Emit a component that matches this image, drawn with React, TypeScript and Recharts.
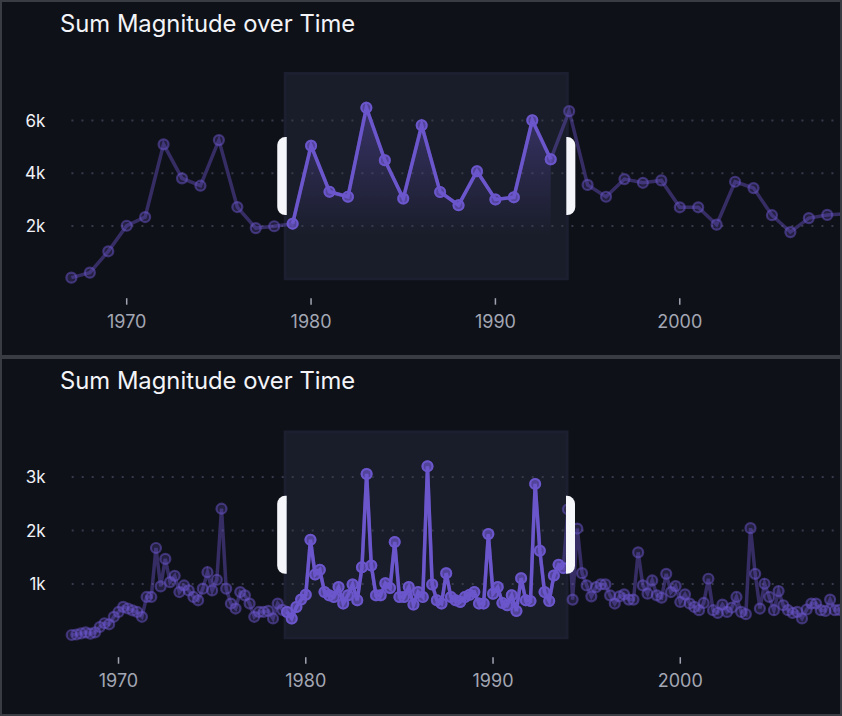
import React from "react";
import {
  ComposedChart,
  Line,
  Area,
  XAxis,
  YAxis,
  ReferenceArea,
  ReferenceLine,
} from "recharts";

//========== Data ==========
const TITLE = "Sum Magnitude over Time";
const X_TICKS = [1970, 1980, 1990, 2000, 2010];

// yearly sums (top panel)
const YEARS = [
  1967, 1968, 1969, 1970, 1971, 1972, 1973, 1974, 1975, 1976, 1977, 1978, 1979,
  1980, 1981, 1982, 1983, 1984, 1985, 1986, 1987, 1988, 1989, 1990, 1991, 1992,
  1993, 1994, 1995, 1996, 1997, 1998, 1999, 2000, 2001, 2002, 2003, 2004, 2005,
  2006, 2007, 2008, 2009,
];
const YEARLY_MAG = [
  40, 230, 1040, 2010, 2340, 5100, 3810, 3530, 5260, 2720, 1920, 1990, 2090,
  5050, 3300, 3110, 6490, 4500, 3040, 5820, 3290, 2790, 4080, 3010, 3090, 6010,
  4530, 6360, 3560, 3110, 3780, 3640, 3730, 2710, 2710, 2050, 3680, 3440, 2410,
  1770, 2300, 2420, 2460,
];
const YEARLY_Y_TICKS = [2000, 4000, 6000];

// quarterly sums (bottom panel), first quarter = Q3 1967
const QUARTER_START = 1967.5;
const QUARTERLY_MAG = [
  50, 60, 80, 100, 75, 100, 200, 270, 250, 390, 480, 575, 545, 510, 480, 390,
  760, 760, 1674, 957, 1470, 1037, 1155, 852, 975, 883, 760, 698, 915, 1222,
  883, 1081, 2407, 915, 637, 544, 852, 790, 637, 390, 480, 481, 500, 359, 637,
  520, 481, 359, 574, 711, 803, 1828, 1180, 1266, 852, 790, 760, 944, 637, 790,
  994, 698, 1315, 3056, 1346, 790, 790, 1018, 926, 1785, 760, 760, 944, 618,
  852, 760, 3198, 994, 698, 637, 1204, 760, 698, 667, 760, 800, 852, 637, 637,
  1933, 822, 944, 648, 605, 790, 500, 1111, 698, 685, 2870, 1624, 852, 685,
  1161, 1359, 1300, 2396, 711, 2037, 1204, 976, 772, 944, 994, 994, 790, 637,
  772, 809, 711, 711, 1593, 976, 822, 1068, 790, 747, 1192, 852, 963, 667, 809,
  637, 574, 513, 648, 1100, 513, 463, 618, 481, 563, 760, 481, 439, 2044, 1192,
  544, 1007, 760, 513, 870, 605, 513, 463, 481, 359, 526, 637, 637, 513, 500,
  711, 513, 520,
];
const QUARTERLY_Y_TICKS = [1000, 2000, 3000];

//========== Colors ==========
const BG = "#0f1119";
const BORDER = "#3a3c44";
const PURPLE = "#6c56cc";
const GRID = "#363a4a";

type Row = { x: number; v: number; sel: number | null };

const buildRows = (xs: number[], vals: number[], lo: number, hi: number): Row[] =>
  xs.map((x, i) => ({ x, v: vals[i], sel: x >= lo && x <= hi ? vals[i] : null }));

const topRows = buildRows(YEARS, YEARLY_MAG, 1979, 1993);
const bottomRows = buildRows(
  QUARTERLY_MAG.map((_, i) => QUARTER_START + i / 4),
  QUARTERLY_MAG,
  1979,
  1993.75
);

//========== Ticks ==========
const YTick = (props: any) => {
  const { x, y, payload } = props;
  return (
    <text x={x + 2} y={y} dy={6} textAnchor="end" fill="#f0f1f6" fontSize={17} fontFamily="Inter">
      {payload.value / 1000}k
    </text>
  );
};

const XTick = (props: any) => {
  const { x, y, payload } = props;
  return (
    <g>
      <line x1={x} x2={x} y1={y + 19.5} y2={y + 26} stroke="#a0a4b0" strokeWidth={1.5} />
      <text x={x} y={y + 49.5} textAnchor="middle" fill="#a3a7b3" fontSize={18} fontFamily="Inter">
        {payload.value}
      </text>
    </g>
  );
};

//========== Brush shapes ==========
const BrushRect = (props: any) => {
  const { x, y, width, height } = props;
  return (
    <rect x={x} y={y} width={width} height={height} fill="#191d29" stroke="#1c1f2f" strokeWidth={3} />
  );
};

const BrushHandles = (props: any) => {
  const { x, y, width, height } = props;
  const cy = y + height / 2;
  const t = cy - 39;
  const b = cy + 39;
  const r = 8;
  const l0 = x - 8;
  const l1 = x + 1.5;
  const r0 = x + width - 1;
  const r1 = x + width + 8;
  return (
    <g fill="#f4f6fa">
      <path d={`M${l1},${t} H${l0 + r} A${r},${r} 0 0 0 ${l0},${t + r} V${b - r} A${r},${r} 0 0 0 ${l0 + r},${b} H${l1} Z`} />
      <path d={`M${r0},${t} H${r1 - r} A${r},${r} 0 0 1 ${r1},${t + r} V${b - r} A${r},${r} 0 0 1 ${r1 - r},${b} H${r0} Z`} />
    </g>
  );
};

//========== Panel ==========
type PanelProps = {
  top: number;
  height: number;
  rows: Row[];
  xDomain: [number, number];
  yDomain: [number, number];
  yTicks: number[];
  brush: [number, number];
  chartWidth: number;
  plotLeft: number;
  plotTop: number;
  plotBottom: number;
  showArea: boolean;
  gradId: string;
};

const Panel: React.FC<PanelProps> = (p) => {
  const chartHeight = p.height;
  return (
    <div
      style={{
        position: "absolute",
        left: 0,
        top: p.top,
        width: 842,
        height: p.height,
        overflow: "hidden",
        background: BG,
      }}
    >
      {/*========== Title ==========*/}
      <div
        style={{
          position: "absolute",
          left: 60,
          top: 10,
          fontFamily: "Inter",
          fontSize: 23.8,
          fontWeight: 400,
          lineHeight: "28px",
          color: "#f3f4f7",
          whiteSpace: "nowrap",
        }}
      >
        {TITLE}
      </div>

      {/*========== Chart ==========*/}
      <div style={{ position: "absolute", left: 0, top: 0 }}>
        <ComposedChart
          width={p.chartWidth}
          height={chartHeight}
          data={p.rows}
          margin={{ top: p.plotTop, right: 0, bottom: 0, left: 0 }}
        >
          <defs>
            <linearGradient id={p.gradId} x1="0" y1="0" x2="0" y2="1">
              <stop offset="0%" stopColor={PURPLE} stopOpacity={0.38} />
              <stop offset="75%" stopColor={PURPLE} stopOpacity={0} />
            </linearGradient>
          </defs>
          <ReferenceArea
            x1={p.brush[0]}
            x2={p.brush[1]}
            shape={BrushRect}
            ifOverflow="visible"
            zIndex={-200}
          />
          {p.yTicks.map((t) => (
            <ReferenceLine
              key={t}
              y={t}
              stroke={GRID}
              strokeWidth={2}
              strokeDasharray="2 8"
              zIndex={-150}
            />
          ))}
          <XAxis
            dataKey="x"
            type="number"
            domain={p.xDomain}
            ticks={X_TICKS}
            axisLine={false}
            tickLine={false}
            tickSize={0}
            tickMargin={0}
            height={chartHeight - p.plotBottom}
            tick={XTick}
            interval={0}
          />
          <YAxis
            type="number"
            domain={p.yDomain}
            ticks={p.yTicks}
            axisLine={false}
            tickLine={false}
            tickSize={0}
            tickMargin={28}
            width={p.plotLeft}
            tick={YTick}
          />
          <Line
            dataKey="v"
            stroke={PURPLE}
            strokeOpacity={0.42}
            strokeWidth={3.5}
            dot={{ r: 5, fill: PURPLE, fillOpacity: 0.22, stroke: PURPLE, strokeOpacity: 0.5, strokeWidth: 2.2 }}
            activeDot={false}
            isAnimationActive={false}
          />
          {p.showArea && (
            <Area
              dataKey="sel"
              stroke="none"
              fill={`url(#${p.gradId})`}
              fillOpacity={1}
              activeDot={false}
              isAnimationActive={false}
            />
          )}
          <Line
            dataKey="sel"
            stroke={PURPLE}
            strokeWidth={3.5}
            dot={{ r: 5, fill: PURPLE, fillOpacity: 0.6, stroke: PURPLE, strokeWidth: 2 }}
            activeDot={false}
            isAnimationActive={false}
          />
          <ReferenceArea
            x1={p.brush[0]}
            x2={p.brush[1]}
            shape={BrushHandles}
            ifOverflow="visible"
            zIndex={1500}
          />
        </ComposedChart>
      </div>

      {/*========== Border ==========*/}
      <div
        style={{
          position: "absolute",
          inset: 0,
          border: `2px solid ${BORDER}`,
          pointerEvents: "none",
        }}
      />
    </div>
  );
};

//========== App ==========
const App: React.FC = () => {
  return (
    <div style={{ position: "relative", width: 842, height: 716, background: BG }}>
      <style>{`body{margin:0;background:${BG};}`}</style>
      <Panel
        top={0}
        height={357}
        rows={topRows}
        xDomain={[1967, 2012]}
        yDomain={[0, 7788]}
        yTicks={YEARLY_Y_TICKS}
        brush={[1978.6, 1993.9]}
        chartWidth={901}
        plotLeft={71.4}
        plotTop={73.5}
        plotBottom={278.7}
        showArea
        gradId="selGradTop"
      />
      <Panel
        top={357}
        height={359}
        rows={bottomRows}
        xDomain={[1967.5, 2012]}
        yDomain={[0, 3838]}
        yTicks={QUARTERLY_Y_TICKS}
        brush={[1978.9, 1993.95]}
        chartWidth={905}
        plotLeft={71.7}
        plotTop={75}
        plotBottom={280.7}
        showArea={false}
        gradId="selGradBottom"
      />
    </div>
  );
};

export default App;
